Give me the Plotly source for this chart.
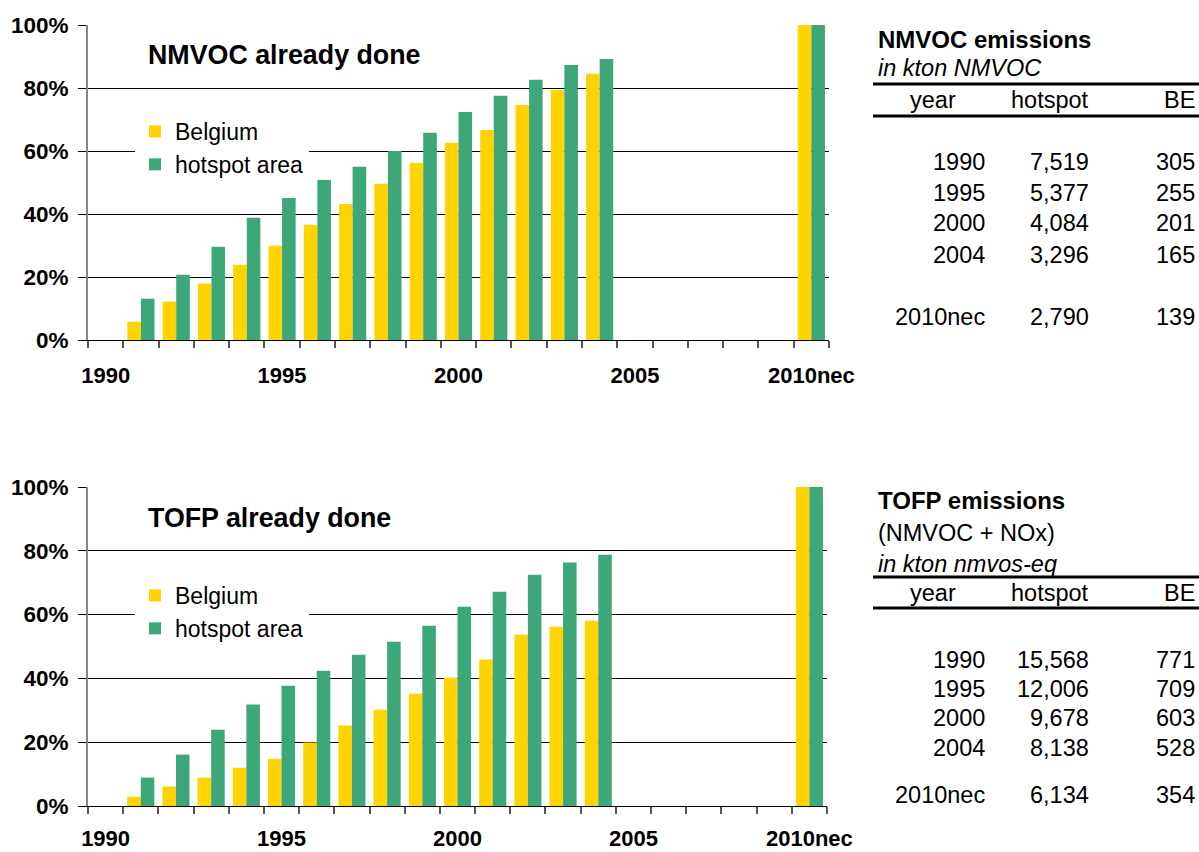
import plotly.graph_objects as go

W, H = 1199, 852
FONT = "Liberation Sans, Arial, sans-serif"

categories = [str(y) for y in range(1990, 2010)] + ["2010nec"]
shown_labels = {"1990", "1995", "2000", "2005", "2010nec"}

nmvoc_belgium = [0, 5.8, 12.2, 17.9, 23.9, 29.9, 36.6, 43.2, 49.6, 56.2, 62.6, 66.7, 74.6, 79.4, 84.5,
                 None, None, None, None, None, 100]
nmvoc_hotspot = [0, 13.1, 20.7, 29.6, 38.8, 45.1, 50.8, 55.0, 60.0, 65.8, 72.4, 77.5, 82.6, 87.3, 89.2,
                 None, None, None, None, None, 100]
tofp_belgium = [0, 2.9, 6.1, 8.9, 12.0, 14.8, 19.9, 25.2, 30.2, 35.2, 40.2, 45.9, 53.7, 56.2, 58.1,
                None, None, None, None, None, 100]
tofp_hotspot = [0, 8.9, 16.1, 23.9, 31.8, 37.7, 42.4, 47.4, 51.5, 56.5, 62.5, 67.2, 72.5, 76.3, 78.8,
                None, None, None, None, None, 100]

table_years = ["1990", "1995", "2000", "2004", "2010nec"]
nmvoc_tab_hotspot = [7519, 5377, 4084, 3296, 2790]
nmvoc_tab_be = [305, 255, 201, 165, 139]
tofp_tab_hotspot = [15568, 12006, 9678, 8138, 6134]
tofp_tab_be = [771, 709, 603, 528, 354]

YELLOW = "#FFD400"
GREEN = "#3DA77A"


def px(x):
    return x / W


def py(y):
    return 1 - y / H


fig = go.Figure()
for xa, ya, be, hs, lg in [("x", "y", nmvoc_belgium, nmvoc_hotspot, "legend"),
                           ("x2", "y2", tofp_belgium, tofp_hotspot, "legend2")]:
    fig.add_trace(go.Bar(x=categories, y=be, name="Belgium", marker=dict(color=YELLOW, line=dict(width=0)),
                         xaxis=xa, yaxis=ya, legend=lg))
    fig.add_trace(go.Bar(x=categories, y=hs, name="hotspot area", marker=dict(color=GREEN, line=dict(width=0)),
                         xaxis=xa, yaxis=ya, legend=lg))

ticktext = [c if c in shown_labels else "" for c in categories]


def xaxis_cfg(anchor, right, standoff):
    return dict(domain=[px(88), px(right)], anchor=anchor, type="category",
                categoryorder="array", categoryarray=categories,
                tickmode="array", tickvals=categories, ticktext=ticktext, tickangle=0,
                tickson="boundaries", ticks="outside", ticklen=7, tickwidth=1.5, tickcolor="#555555",
                showline=True, linecolor="#000000", linewidth=1, showgrid=False, automargin=False,
                tickfont=dict(family=FONT, size=22, color="black", weight="bold"),
                ticklabelstandoff=standoff, fixedrange=True)


def yaxis_cfg(anchor, top, bottom):
    return dict(domain=[py(bottom), py(top)], anchor=anchor, range=[0, 100], dtick=20, tick0=0,
                ticksuffix="%", ticks="outside", ticklen=8, tickwidth=1, tickcolor="#000000",
                showgrid=True, gridcolor="#000000", gridwidth=1, zeroline=False, automargin=False,
                showline=True, linecolor="#868686", linewidth=2,
                tickfont=dict(family=FONT, size=22.5, color="black", weight="bold"),
                ticklabelstandoff=5, fixedrange=True)


annotations = []
shapes = []


def text(x, y, s, size=23.5, bold=False, italic=False, anchor="left"):
    annotations.append(dict(x=px(x), y=py(y), xref="paper", yref="paper", text=s, showarrow=False,
                            xanchor=anchor, yanchor="middle",
                            font=dict(family=FONT, size=size, color="black",
                                      weight="bold" if bold else "normal",
                                      style="italic" if italic else "normal")))


def hline(y):
    shapes.append(dict(type="line", xref="paper", yref="paper", x0=px(873), x1=px(1199), y0=py(y), y1=py(y),
                       line=dict(color="black", width=3)))


# chart titles
text(146, 55, "NMVOC already done", size=26.8, bold=True)
text(146, 518, "TOFP already done", size=26.8, bold=True)

# table 1
text(876, 39, "NMVOC emissions", size=24, bold=True)
text(876, 68, "in kton NMVOC", italic=True)
hline(84)
text(933, 100, "year", anchor="center")
text(1091, 100, "hotspot", anchor="right")
text(1197, 100, "BE", anchor="right")
hline(116)
for yy, yr, h, b in zip([162, 193, 223, 255, 317], table_years, nmvoc_tab_hotspot, nmvoc_tab_be):
    text(987, yy, yr, anchor="right")
    text(1091, yy, f"{h:,}", anchor="right")
    text(1197, yy, f"{b:,}", anchor="right")

# table 2
text(876, 500, "TOFP emissions", size=24, bold=True)
text(876, 533, "(NMVOC + NOx)")
text(876, 564, "in kton nmvos-eq", italic=True)
hline(577)
text(933, 593, "year", anchor="center")
text(1091, 593, "hotspot", anchor="right")
text(1197, 593, "BE", anchor="right")
hline(608)
for yy, yr, h, b in zip([660, 689, 718, 748, 795], table_years, tofp_tab_hotspot, tofp_tab_be):
    text(987, yy, yr, anchor="right")
    text(1091, yy, f"{h:,}", anchor="right")
    text(1197, yy, f"{b:,}", anchor="right")

legend_common = dict(xanchor="left", yanchor="top", bgcolor="white", borderwidth=0,
                     font=dict(family=FONT, size=23, color="black"), traceorder="normal")

fig.update_layout(
    width=W, height=H, margin=dict(l=0, r=0, t=0, b=0, pad=0, autoexpand=False),
    paper_bgcolor="white", plot_bgcolor="white",
    barmode="group", bargap=0.23, bargroupgap=0,
    xaxis=xaxis_cfg("y", 829, 16), yaxis=yaxis_cfg("x", 25, 340),
    xaxis2=xaxis_cfg("y2", 827, 13), yaxis2=yaxis_cfg("x2", 487, 806),
    legend=dict(x=px(135), y=py(110), **legend_common),
    legend2=dict(x=px(135), y=py(574), **legend_common),
    annotations=annotations, shapes=shapes,
    font=dict(family=FONT, color="black"),
)

fig.write_html("out.html", config={"displayModeBar": False},
               post_script="document.body.style.margin='0';document.body.style.overflow='hidden';")
